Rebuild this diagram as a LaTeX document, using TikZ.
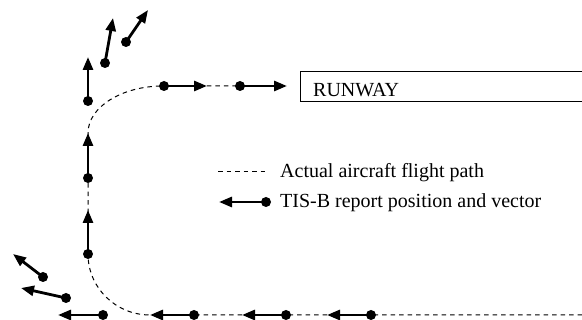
\documentclass[tikz,border=0pt]{standalone}
\usepackage{fontspec}
\setmainfont{Liberation Serif}
\usetikzlibrary{arrows.meta}

\begin{document}
\begin{tikzpicture}[x=1pt, y=-1pt,
    font=\fontsize{20}{24}\selectfont,
    report/.style={circle, fill=black, inner sep=0pt, minimum size=10pt},
    vec/.style={line width=2.8pt, -{Triangle[length=13pt, width=10pt]}},
    flightpath/.style={line width=1pt, dash pattern=on 4.5pt off 4pt}]
    \useasboundingbox (0,0) rectangle (582,320);

    % runway
    \node[draw, line width=1pt, anchor=north west, minimum width=300pt,
          minimum height=30pt, inner sep=0pt] (runway) at (300,71) {};
    \node[anchor=base west, inner sep=0pt] (rwlabel) at (313,97) {RUNWAY};

    % actual flight path
    \coordinate (f1) at (582,315);
    \coordinate (f2) at (150,315);
    \coordinate (f3) at (88,254);
    \coordinate (f4) at (88,133);
    \coordinate (f5) at (163,86);
    \coordinate (f6) at (240,86);
    \draw[flightpath] (f1) -- (f2) .. controls (116,315) and (88,288) .. (f3)
        -- (f4) .. controls (88,107) and (122,86) .. (f5) -- (f6);

    % TIS-B reports
    \node[report] (a1) at (164,86) {};  \coordinate (a1t) at (207,86);
    \node[report] (a2) at (240,86) {};  \coordinate (a2t) at (287,86);
    \node[report] (b1) at (88,254) {};  \coordinate (b1t) at (88,210);
    \node[report] (b2) at (88,178) {};  \coordinate (b2t) at (88,133);
    \node[report] (b3) at (88,101) {};  \coordinate (b3t) at (88,57);
    \node[report] (c1) at (105,63) {};  \coordinate (c1t) at (113,18);
    \node[report] (c2) at (126,42) {};  \coordinate (c2t) at (148,10);
    \node[report] (d1) at (371,315) {}; \coordinate (d1t) at (327,315);
    \node[report] (d2) at (286,315) {}; \coordinate (d2t) at (242,315);
    \node[report] (d3) at (194,315) {}; \coordinate (d3t) at (150,315);
    \node[report] (d4) at (103,315) {}; \coordinate (d4t) at (58,315);
    \node[report] (e1) at (66,298) {};  \coordinate (e1t) at (21,288);
    \node[report] (e2) at (43,277) {};  \coordinate (e2t) at (13,254);
    \foreach \r in {a1,a2,b1,b2,b3,c1,c2,d1,d2,d3,d4,e1,e2}
        \draw[vec] (\r.center) -- (\r t);

    % legend
    \coordinate (l1a) at (218,172);
    \coordinate (l1b) at (265,172);
    \draw[flightpath] (l1a) -- (l1b);
    \node[anchor=base west, inner sep=0pt] (l1text) at (280,178) {Actual aircraft flight path};
    \node[report] (l2) at (266,202) {}; \coordinate (l2t) at (219,202);
    \draw[vec] (l2.center) -- (l2t);
    \node[anchor=base west, inner sep=0pt] (l2text) at (280,208) {TIS-B report position and vector};
\end{tikzpicture}
\end{document}
